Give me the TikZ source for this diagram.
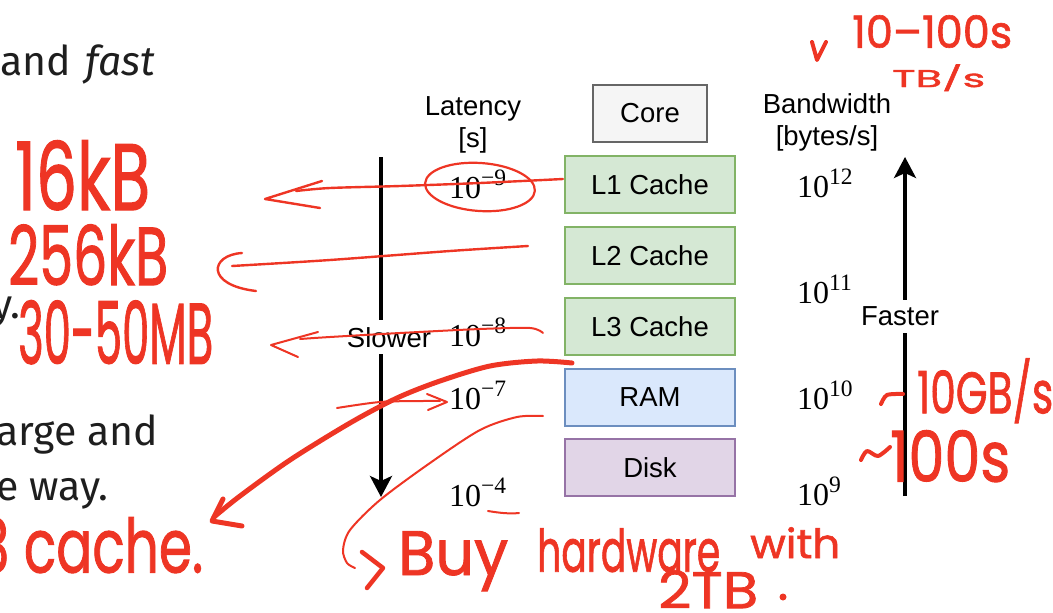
\documentclass[tikz,border=0pt]{standalone}
\usepackage{fontspec}
\usepackage{graphicx}
\setmainfont{Liberation Sans}
\newfontfamily\slidefont{Fira Sans}
\newfontfamily\handfont{Poppins}[FakeBold=1.4]
\newfontfamily\numfont{Liberation Serif}
\usetikzlibrary{arrows.meta}

\definecolor{ink}{HTML}{EE3524}
\definecolor{slidetext}{HTML}{1E1E1E}
\definecolor{coreFill}{HTML}{F5F5F5}\definecolor{coreLine}{HTML}{666666}
\definecolor{grnFill}{HTML}{D5E8D4}\definecolor{grnLine}{HTML}{82B366}
\definecolor{bluFill}{HTML}{DAE8FC}\definecolor{bluLine}{HTML}{6C8EBF}
\definecolor{purFill}{HTML}{E1D5E7}\definecolor{purLine}{HTML}{9673A6}

% handwritten note squeezed into a given width x height
\newcommand\handnote[3]{\resizebox*{#1}{#2}{\handfont #3}}
% power of ten: base with a raised exponent
\newcommand\tenpow[1]{10\raisebox{0.38em}{\fontsize{23.5}{26}\selectfont #1}}

\tikzset{
  membox/.style={draw, line width=1.3pt, minimum width=170pt, minimum height=57pt,
    inner sep=0pt, font=\fontsize{27.5}{30}\selectfont},
  corebox/.style={membox, minimum width=114pt, fill=coreFill, draw=coreLine},
  cachebox/.style={membox, fill=grnFill, draw=grnLine},
  rambox/.style={membox, fill=bluFill, draw=bluLine},
  diskbox/.style={membox, fill=purFill, draw=purLine},
  lbl/.style={inner sep=0pt, font=\fontsize{27.5}{30}\selectfont},
  num/.style={inner sep=0pt, anchor=base west, font=\numfont\fontsize{32}{36}\selectfont},
  axis/.style={line width=3.5pt, -{Stealth[length=21pt, width=22pt, inset=5pt]}},
  axislbl/.style={lbl, fill=white, inner xsep=4pt, inner ysep=7pt},
  slide/.style={inner sep=0pt, anchor=base west, text=slidetext,
    font=\slidefont\fontsize{41}{46}\selectfont},
  hand/.style={inner sep=0pt, anchor=north west, text=ink},
  pen/.style={draw=ink, line width=2.4pt, line cap=round, line join=round},
  marker/.style={pen, line width=5pt},
}

\begin{document}
\begin{tikzpicture}[x=1pt, y=-1pt]
\useasboundingbox (0,0) rectangle (1053,613);
\clip (0,0) rectangle (1053,613);

% slide text behind the figure
\node[slide] (s1) at (0,75) {and\hspace{14pt}\textit{fast}};
\node[slide] (s2) at (-8,318) {y.};
\node[slide] (s3) at (-4,445) {arge and};
\node[slide] (s4) at (-4,500) {e way.};

% memory hierarchy
\node[corebox]  (core) at (650,113.5) {Core};
\node[cachebox] (l1)   at (650,184.5) {L1 Cache};
\node[cachebox] (l2)   at (650,255.5) {L2 Cache};
\node[cachebox] (l3)   at (650,326.5) {L3 Cache};
\node[rambox]   (ram)  at (650,397.5) {RAM};
\node[diskbox]  (disk) at (650,467.5) {Disk};

% column headings
\node[lbl, anchor=base] (lat1) at (473,115) {Latency};
\node[lbl, anchor=base] (lat2) at (473,147) {[s]};
\node[lbl, anchor=base] (bw1)  at (827,113) {Bandwidth};
\node[lbl, anchor=base] (bw2)  at (827,145) {[bytes/s]};

% latency values
\node[num] (t9) at (449,198) {\tenpow{−9}};
\node[num] (t8) at (449,346) {\tenpow{−8}};
\node[num] (t7) at (449,409) {\tenpow{−7}};
\node[num] (t4) at (449,506) {\tenpow{−4}};

% bandwidth values
\node[num] (b12) at (797,197) {\tenpow{12}};
\node[num] (b11) at (797,303) {\tenpow{11}};
\node[num] (b10) at (797,409) {\tenpow{10}};
\node[num] (b9)  at (797,505) {\tenpow{9}};

% trend arrows
\coordinate (slowTop) at (381,157);
\coordinate (slowEnd) at (381,497);
\coordinate (fastBot) at (905,496);
\coordinate (fastTop) at (905,157);
\draw[axis] (slowTop) -- (slowEnd)
  node[axislbl, pos=0.53, xshift=8pt] (slow) {Slower};
\draw[axis] (fastBot) -- (fastTop)
  node[axislbl, pos=0.53, xshift=-5pt] (fast) {Faster};

% ---------------- pen annotations ----------------
% L1 -> 16kB
\draw[pen] plot[smooth] coordinates {(563,179) (480,183) (400,186) (330,188) (296,191)};
\draw[pen] (322,181) -- (265,199) -- (320,208);
\draw[pen, line width=2.2pt, rotate around={-4:(480,187)}] (480,187) ellipse (55pt and 24pt);
% L2 -> 256kB
\draw[pen] plot[smooth] coordinates {(528,246) (450,251) (330,260) (232,266)};
\draw[pen] (242,253) .. controls (210,255) and (205,285) .. (256,291);
% L3 -> 30-50MB
\draw[pen, line width=2pt] plot[smooth] coordinates {(543,333) (530,328) (480,329) (400,333) (330,337) (300,339)};
\draw[pen, line width=2pt] (318,332) -- (271,345) -- (298,357);
% RAM line to 10^-7
\draw[pen, line width=2pt] plot[smooth] coordinates {(337,408) (380,402) (423,401) (440,401)};
\draw[pen, line width=2pt] (427,394) -- (447,402) -- (428,410);
% big stroke from RAM to "L3 cache."
\draw[marker] plot[smooth] coordinates {(572,363) (537,361) (490,366) (440,381) (397,398) (350,423) (290,460) (240,496) (214,517)};
\draw[marker] (223,499) -- (212,521) -- (242,526);
% stroke from Disk to the note below
\draw[pen, line width=2pt] plot[smooth] coordinates {(543,416) (517,417) (480,430) (430,463) (380,500) (350,530) (343,550) (347,563) (355,568)};
\draw[pen, line width=2pt] (488,511) .. controls (500,513) and (510,514) .. (519,513);
\draw[marker, line width=4.5pt] (362,552) -- (383,568) -- (367,588);
% tilde marks
\draw[pen, line width=4pt] (812,42) -- (817,60) -- (826,42);
\draw[pen, line width=4pt] plot[smooth] coordinates {(881,404) (887,395) (903,394)};
\draw[pen, line width=4pt] plot[smooth] coordinates {(861,460) (867,451) (878,456) (890,447)};

% handwritten notes
\node[hand] (n1)  at (852,15)  {\handnote{160pt}{33pt}{10–100s}};
\node[hand] (n2)  at (892,64)  {\handnote{93pt}{27pt}{TB/s}};
\node[hand] (n3)  at (15,140)  {\handnote{135pt}{70pt}{16kB}};
\node[hand] (n4)  at (8,224)   {\handnote{160pt}{61pt}{256kB}};
\node[hand] (n5)  at (18,300)  {\handnote{195pt}{64pt}{30-50MB}};
\node[hand] (n6)  at (-22,517) {\handnote{225pt}{56pt}{3 cache.}};
\node[hand] (n7)  at (917,358) {\handnote{136pt}{65pt}{10GB/s}};
\node[hand] (n8)  at (890,430) {\handnote{120pt}{52pt}{100s}};
\node[hand] (n9)  at (398,531) {\handnote{110pt}{60pt}{Buy}};
\node[hand] (n10) at (537,528) {\handnote{183pt}{44pt}{hardware}};
\node[hand] (n11) at (750,527) {\handnote{90pt}{31pt}{with}};
\node[hand] (n12) at (658,570) {\handnote{100pt}{38pt}{2TB}};
\fill[ink] (783,597) circle (3.5pt);
\end{tikzpicture}
\end{document}
